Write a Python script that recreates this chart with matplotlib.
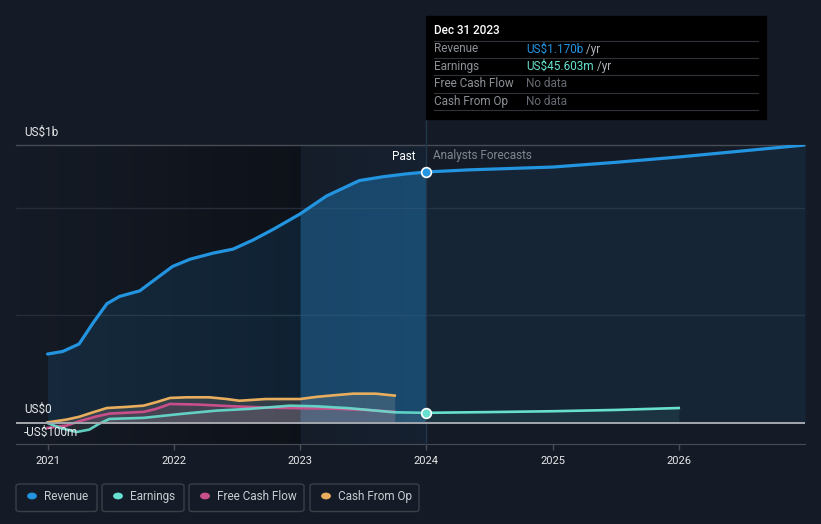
import numpy as np
import matplotlib
matplotlib.use("Agg")
import matplotlib.pyplot as plt
from matplotlib.patches import FancyBboxPatch, Rectangle

plt.rcParams['font.family'] = ['Roboto', 'DejaVu Sans']

# ---- data (US$ billions, decimal years) ----
rev_x = [2021.0, 2021.12, 2021.25, 2021.36, 2021.47, 2021.57, 2021.73, 2021.83,
         2021.99, 2022.13, 2022.31, 2022.47, 2022.63, 2022.79, 2023.0, 2023.21,
         2023.47, 2023.66, 2023.84, 2024.0]
revenue_past = [0.320, 0.332, 0.367, 0.465, 0.555, 0.589, 0.615, 0.659,
                0.729, 0.763, 0.791, 0.810, 0.853, 0.903, 0.974, 1.058,
                1.130, 1.148, 1.161, 1.170]

earn_x = [2021.0, 2021.1, 2021.23, 2021.33, 2021.41, 2021.49, 2021.76, 2022.05,
          2022.34, 2022.6, 2022.92, 2023.13, 2023.39, 2023.75, 2024.0]
earnings_past = [-0.002, -0.025, -0.044, -0.033, -0.005, 0.017, 0.022, 0.040,
                 0.056, 0.064, 0.079, 0.076, 0.067, 0.048, 0.0456]

fcf_x = [2021.0, 2021.15, 2021.25, 2021.39, 2021.49, 2021.76, 2021.86, 2021.97,
         2022.2, 2022.47, 2022.73, 2023.0, 2023.26, 2023.53, 2023.75]
fcf_past = [-0.025, -0.014, 0.006, 0.029, 0.042, 0.050, 0.064, 0.087,
            0.084, 0.076, 0.070, 0.067, 0.065, 0.059, 0.050]

cfo_x = [2021.0, 2021.15, 2021.25, 2021.36, 2021.47, 2021.62, 2021.76, 2021.86,
         2021.97, 2022.1, 2022.28, 2022.42, 2022.52, 2022.73, 2023.0, 2023.13,
         2023.26, 2023.42, 2023.6, 2023.75]
cfo_past = [0.001, 0.014, 0.027, 0.048, 0.068, 0.073, 0.079, 0.095,
            0.115, 0.118, 0.118, 0.110, 0.102, 0.110, 0.110, 0.120,
            0.127, 0.135, 0.135, 0.126]

fc_rev_x = [2024.0, 2024.34, 2025.0, 2025.5, 2026.0, 2026.5, 2027.0]
revenue_fc = [1.170, 1.180, 1.193, 1.215, 1.240, 1.268, 1.296]
fc_earn_x = [2024.0, 2024.5, 2025.0, 2025.5, 2026.0]
earnings_fc = [0.0456, 0.049, 0.053, 0.059, 0.068]

year_ticks = [2021, 2022, 2023, 2024, 2025, 2026]

BG = '#151b26'
C_REV = '#2394df'
C_EARN = '#67e0d0'
C_FCF = '#c94f8a'
C_CFO = '#e8ae5e'
YTOP = 1.296

W, H = 821, 524
fig = plt.figure(figsize=(W / 100, H / 100), dpi=100, facecolor=BG)
ax = fig.add_axes([16 / W, 1 - 444 / H, (805 - 16) / W, (444 - 145) / H])
ax.set_facecolor(BG)
ax.set_xlim(2020.75, 2027.0)
ax.set_ylim(-0.1, YTOP)

# darker gradient over the older past
grad = np.zeros((2, 256, 4))
grad[..., 3] = np.linspace(0, 0.35, 256)
ax.imshow(grad, extent=[2020.75, 2023, -0.1, YTOP], aspect='auto', zorder=0)
# past-year highlight
hl = np.zeros((2, 256, 4))
hl[..., 0], hl[..., 1], hl[..., 2] = 0.09, 0.30, 0.50
hl[..., 3] = np.linspace(0.04, 0.12, 256)
ax.imshow(hl, extent=[2023, 2024, -0.1, YTOP], aspect='auto', zorder=0)

# gridlines
for g in [0.5, 1.0]:
    ax.axhline(g, color='#262d38', lw=1, zorder=1)
ax.axhline(YTOP, color='#474c55', lw=1, zorder=1, clip_on=False)
ax.axhline(0, color='#a4a8ae', lw=1.4, zorder=6)

# revenue fills + lines
px = np.array(rev_x)
rp = np.array(revenue_past)
ax.fill_between(px, 0, rp, color=C_REV, alpha=0.13, lw=0, zorder=2)
ax.fill_between(px, 0, rp, where=(px >= 2023), color=C_REV, alpha=0.26, lw=0, zorder=2)
ax.fill_between(fc_rev_x, 0, revenue_fc, color=C_REV, alpha=0.09, lw=0, zorder=2)
ax.plot(rev_x, revenue_past, color=C_REV, lw=2.3, solid_joinstyle='round',
        solid_capstyle='round', zorder=5)
ax.plot(fc_rev_x, revenue_fc, color=C_REV, lw=2.3, solid_joinstyle='round', zorder=5)

# smaller series
ax.fill_between(cfo_x, 0, cfo_past, color='#c8c0a8', alpha=0.18, lw=0, zorder=3)
ax.fill_between(fcf_x, 0, fcf_past, color=C_FCF, alpha=0.12, lw=0, zorder=3)
ax.fill_between(earn_x, 0, earnings_past, color='#9fb8b4', alpha=0.12, lw=0, zorder=3)
ax.fill_between(fc_earn_x, 0, earnings_fc, color=C_EARN, alpha=0.08, lw=0, zorder=3)
ax.plot(cfo_x, cfo_past, color=C_CFO, lw=1.9, solid_joinstyle='round', zorder=5)
ax.plot(fcf_x, fcf_past, color=C_FCF, lw=1.9, solid_joinstyle='round', zorder=5)
ax.plot(earn_x, earnings_past, color=C_EARN, lw=1.9, solid_joinstyle='round',
        zorder=5, alpha=0.9)
ax.plot(fc_earn_x, earnings_fc, color=C_EARN, lw=1.9, zorder=5)

# markers at last reported point
ax.plot([2024], [revenue_past[-1]], 'o', ms=7, mfc=C_REV, mec='white', mew=1.2, zorder=8)
ax.plot([2024], [earnings_past[-1]], 'o', ms=7, mfc=C_EARN, mec='white', mew=1.2, zorder=8)

# hover line
ax.axvline(2024, ymin=0, ymax=(444 - 16) / (444 - 145), color='#22364a', lw=1,
           clip_on=False, zorder=4)

# axes cosmetics
for s in ['top', 'right', 'left']:
    ax.spines[s].set_visible(False)
ax.spines['bottom'].set_color('#474c55')
ax.set_yticks([])
ax.set_xticks(year_ticks)
ax.set_xticklabels([str(y) for y in year_ticks])
ax.tick_params(axis='x', colors='#474c55', length=4, width=1, labelcolor='#e6e8ea',
               labelsize=8, pad=5)

# y labels (px offsets converted to points)
ylab = dict(xycoords=('axes fraction', 'data'), textcoords='offset points',
            color='#e6e8ea', fontsize=8.5, ha='left', va='center')
ax.annotate('US$1b', (8 / 789, YTOP), xytext=(0, 13 * 0.72), **ylab)
ax.annotate('US$0', (8 / 789, 0), xytext=(0, 13 * 0.72), **ylab)
ax.annotate('-US$100m', (8 / 789, -0.1), xytext=(0, 12 * 0.72), zorder=7, **ylab)

ax.annotate('Past', (2024, YTOP), xytext=(-8, -11 * 0.72), textcoords='offset points',
            color='white', fontsize=8.5, ha='right', va='center')
ax.annotate('Analysts Forecasts', (2024, YTOP), xytext=(5, -11 * 0.72),
            textcoords='offset points', color='#80858d', fontsize=8.5,
            ha='left', va='center')

# tooltip
fig.patches.append(Rectangle((426 / W, 1 - 119 / H), (766 - 426) / W, (119 - 16) / H,
                             transform=fig.transFigure, color='black', zorder=10))
fig.text(434 / W, 1 - 31 / H, 'Dec 31 2023', color='white', fontsize=8.5,
         fontweight='medium', va='center', zorder=11)
rows = [('Revenue', 'US$1.170b', C_REV, ' /yr'),
        ('Earnings', 'US$45.603m', C_EARN, ' /yr'),
        ('Free Cash Flow', 'No data', '#666a72', ''),
        ('Cash From Op', 'No data', '#666a72', '')]
for i, (lab, val, col, unit) in enumerate(rows):
    yc = 1 - (49 + i * 17.4) / H
    yl = 1 - (40.5 + i * 17.4) / H
    fig.lines.append(plt.Line2D([434 / W, 758 / W], [yl, yl], transform=fig.transFigure,
                                color='#2f333a', lw=0.8, zorder=11))
    fig.text(434 / W, yc, lab, color='#8d9198', fontsize=8.5, va='center', zorder=11)
    t = fig.text(526 / W, yc, val, color=col, fontsize=8.5, va='center', zorder=11)
    if unit:
        fig.canvas.draw()
        bb = t.get_window_extent()
        fig.text(bb.x1 / W, yc, unit, color='#b0b4ba', fontsize=8.5, va='center', zorder=11)
yl = 1 - (40.5 + 4 * 17.4) / H
fig.lines.append(plt.Line2D([434 / W, 758 / W], [yl, yl], transform=fig.transFigure,
                            color='#2f333a', lw=0.8, zorder=11))

# legend
legend_items = [('Revenue', C_REV, 16, 97), ('Earnings', C_EARN, 102, 184),
                ('Free Cash Flow', C_FCF, 189, 304), ('Cash From Op', C_CFO, 310, 419)]
for lab, col, x0, x1 in legend_items:
    fig.patches.append(FancyBboxPatch((x0 / W, 1 - 511.5 / H), (x1 - x0) / W, 27.5 / H,
                                      boxstyle='round,pad=0,rounding_size=0.004',
                                      transform=fig.transFigure, fc='none',
                                      ec='#3a3f48', lw=1))
    fig.patches.append(plt.Circle(((x0 + 16) / W, 1 - 496 / H), 4.2 / W,
                                  transform=fig.transFigure, color=col))
    fig.text((x0 + 28) / W, 1 - 496.5 / H, lab, color='#c8ccd2', fontsize=8.5, va='center')

fig.savefig('out.png', dpi=100, facecolor=BG)
